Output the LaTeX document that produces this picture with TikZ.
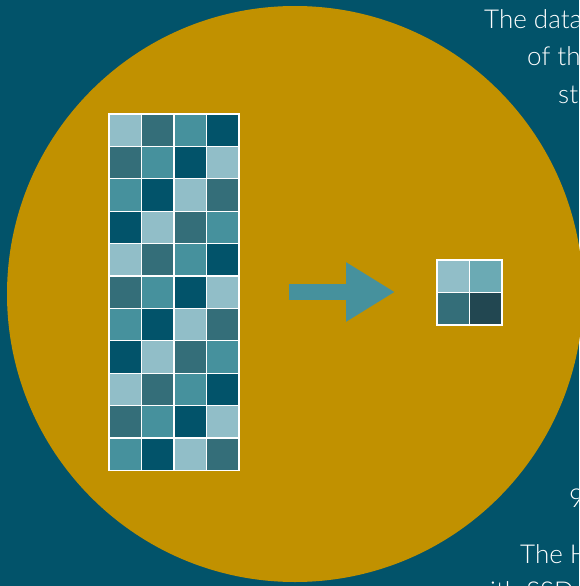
\documentclass[tikz,border=0pt]{standalone}
\usepackage{fontspec}
\setmainfont{Lato Light}[BoldFont=Lato]
\usetikzlibrary{arrows.meta}
\definecolor{backteal}{HTML}{02536A}
\definecolor{gold}{HTML}{C19100}
\definecolor{shade0}{HTML}{91BEC8}
\definecolor{shade1}{HTML}{346E79}
\definecolor{shade2}{HTML}{46919D}
\definecolor{shade3}{HTML}{02536A}
\definecolor{small0}{HTML}{91BEC8}
\definecolor{small1}{HTML}{6BAAB4}
\definecolor{small2}{HTML}{346E79}
\definecolor{small3}{HTML}{224751}
\tikzset{cell/.style={draw=white, line width=1.2pt, minimum width=32.5pt, minimum height=32.4pt, inner sep=0pt, outer sep=0pt},
	note/.style={anchor=base west, text=white, inner sep=0pt, font=\fontsize{26}{31}\selectfont}}
\begin{document}
\begin{tikzpicture}[x=1pt, y=-1pt]
	\fill[backteal] (0,0) rectangle (579,586);
	\useasboundingbox (0,0) rectangle (579,586);
	\fill[gold] (295,294) circle (288pt);
	\foreach \r in {0,...,10}
		\foreach \c in {0,...,3}{
			\pgfmathtruncatemacro\k{mod(\r+\c,4)}
			\node[cell, fill=shade\k] (big-\r-\c) at (125.25+32.5*\c, 130.2+32.4*\r) {};
		}
	\foreach \r in {0,1}
		\foreach \c in {0,1}{
			\pgfmathtruncatemacro\k{2*\r+\c}
			\node[cell, fill=small\k] (small-\r-\c) at (453.25+32.5*\c, 276.25+32.5*\r) {};
		}
	\coordinate (arrowtail) at (289,292);
	\coordinate (arrowtip) at (395,292);
	\draw[shade2, line width=16pt, -{Triangle[length=49pt, width=56pt]}] (arrowtail) -- (arrowtip);
	\node[note] (top-1) at (484,29) {The data};
	\node[note] (top-2) at (527,66) {of th};
	\node[note] (top-3) at (558,103) {st};
	\node[note] (low-1) at (569,507) {9};
	\node[note] (low-2) at (520,563) {The H};
	\node[note] (low-3) at (490,600) {ith SSD};
\end{tikzpicture}
\end{document}
